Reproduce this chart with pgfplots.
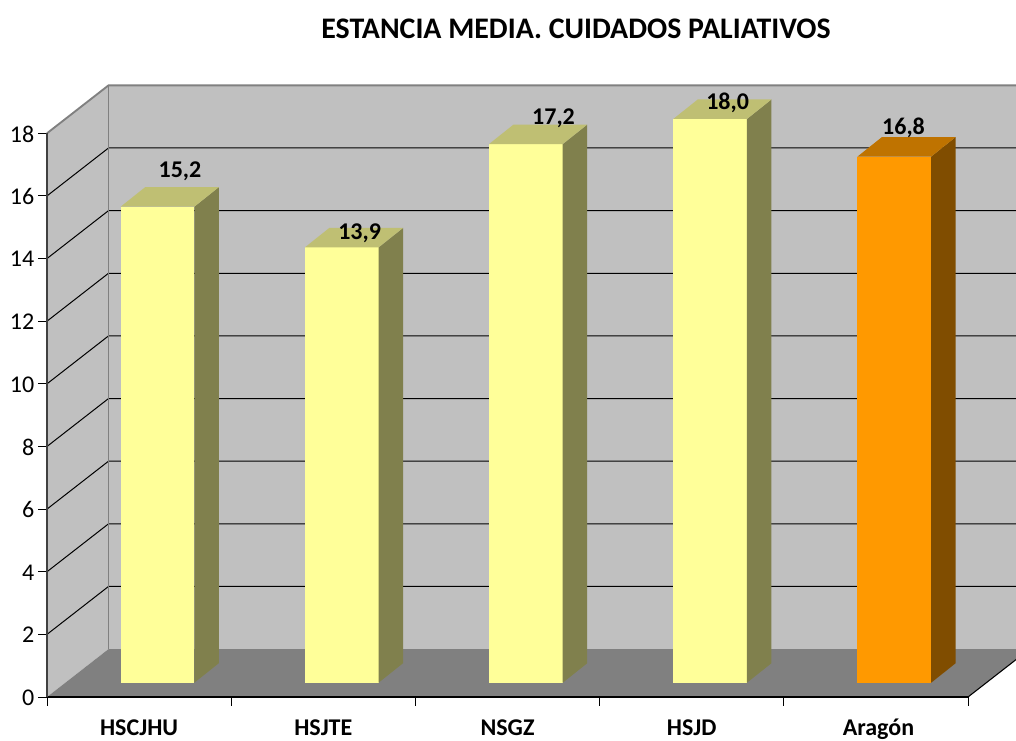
\documentclass[border=0pt]{standalone}
\usepackage{pgfplots}
\pgfplotsset{compat=1.18}
\usepackage{fontspec}
\setmainfont{Carlito}
\definecolor{wall}{HTML}{C0C0C0}
\definecolor{floorc}{HTML}{808080}
\definecolor{barY}{HTML}{FFFF99}
\definecolor{sideY}{HTML}{80804D}
\definecolor{topY}{HTML}{BFBF73}
\definecolor{barO}{HTML}{FF9900}
\definecolor{sideO}{HTML}{804D00}
\definecolor{topO}{HTML}{BF7300}
\pgfplotsset{
  face/.style={draw=none,fill=#1,xshift=13.8pt,yshift=10.7pt,forget plot},
}
\begin{document}
\begin{tikzpicture}
\path[use as bounding box] (0,0) rectangle (762pt,555pt);
\begin{axis}[
  at={(35.25pt,32.25pt)},anchor=south west,
  scale only axis,width=690.75pt,height=422.8pt,
  xmin=0,xmax=5,ymin=0,ymax=18,
  clip=false,
  axis y line*=left,axis x line*=bottom,
  x axis line style={black,line width=0.8pt,-},
  y axis line style={black!75,line width=1pt,-},
  axis on top,
  tick align=outside,
  tick style={black,line width=0.75pt},
  major tick length=6.4pt,
  ytick={0,2,4,6,8,10,12,14,16,18},
  xtick={0,1,2,3,4,5},
  xticklabels={},
  extra x ticks={0.5,1.5,2.5,3.5,4.514},
  extra x tick labels={HSCJHU,HSJTE,NSGZ,HSJD,Aragón},
  extra x tick style={major tick length=0pt,
    xticklabel style={font=\fontsize{18}{20}\selectfont\bfseries,anchor=base,inner sep=0pt,yshift=-28.6pt}},
  /pgf/number format/assume math mode=true,
  yticklabel style={font=\fontsize{18}{20}\selectfont,xshift=0.4pt,yshift=-0.5pt},
  legend style={draw=none},
]
% walls and floor
\addplot[draw=none,fill=wall,forget plot] coordinates {(0.334,1.53)(5.334,1.53)(5.334,19.53)(0.334,19.53)} -- cycle;
\addplot[draw=none,fill=wall,forget plot] coordinates {(0,0)(0.334,1.53)(0.334,19.53)(0,18)} -- cycle;
\addplot[draw=none,fill=floorc,forget plot] coordinates {(0,0)(5,0)(5.334,1.53)(0.334,1.53)} -- cycle;
% gridlines
\addplot[black,line width=0.75pt,unbounded coords=jump,forget plot] coordinates {
 (0,2)(0.334,3.53)(5.334,3.53)(nan,nan)
 (0,4)(0.334,5.53)(5.334,5.53)(nan,nan)
 (0,6)(0.334,7.53)(5.334,7.53)(nan,nan)
 (0,8)(0.334,9.53)(5.334,9.53)(nan,nan)
 (0,10)(0.334,11.53)(5.334,11.53)(nan,nan)
 (0,12)(0.334,13.53)(5.334,13.53)(nan,nan)
 (0,14)(0.334,15.53)(5.334,15.53)(nan,nan)
 (0,16)(0.334,17.53)(5.334,17.53)};
% wall edges
\addplot[floorc,line width=1.4pt,forget plot] coordinates {(0.334,1.53)(0.334,19.53)};
\addplot[floorc,line width=1.4pt,forget plot] coordinates {(0,18)(0.334,19.53)(5.334,19.53)};
\addplot[black,line width=0.8pt,forget plot] coordinates {(5,0)(5.334,1.53)};
% bars
\addplot[face=barY] coordinates {(0.3,0)(0.7,0)(0.7,15.2)(0.3,15.2)} -- cycle;
\addplot[face=sideY] coordinates {(0.7,0)(0.833,0.623)(0.833,15.823)(0.7,15.2)} -- cycle;
\addplot[face=topY] coordinates {(0.3,15.2)(0.7,15.2)(0.833,15.823)(0.433,15.823)} -- cycle;
\addplot[face=barY] coordinates {(1.3,0)(1.7,0)(1.7,13.9)(1.3,13.9)} -- cycle;
\addplot[face=sideY] coordinates {(1.7,0)(1.833,0.623)(1.833,14.523)(1.7,13.9)} -- cycle;
\addplot[face=topY] coordinates {(1.3,13.9)(1.7,13.9)(1.833,14.523)(1.433,14.523)} -- cycle;
\addplot[face=barY] coordinates {(2.3,0)(2.7,0)(2.7,17.2)(2.3,17.2)} -- cycle;
\addplot[face=sideY] coordinates {(2.7,0)(2.833,0.623)(2.833,17.823)(2.7,17.2)} -- cycle;
\addplot[face=topY] coordinates {(2.3,17.2)(2.7,17.2)(2.833,17.823)(2.433,17.823)} -- cycle;
\addplot[face=barY] coordinates {(3.3,0)(3.7,0)(3.7,18)(3.3,18)} -- cycle;
\addplot[face=sideY] coordinates {(3.7,0)(3.833,0.623)(3.833,18.623)(3.7,18)} -- cycle;
\addplot[face=topY] coordinates {(3.3,18)(3.7,18)(3.833,18.623)(3.433,18.623)} -- cycle;
\addplot[face=barO] coordinates {(4.3,0)(4.7,0)(4.7,16.8)(4.3,16.8)} -- cycle;
\addplot[face=sideO] coordinates {(4.7,0)(4.833,0.623)(4.833,17.423)(4.7,16.8)} -- cycle;
\addplot[face=topO] coordinates {(4.3,16.8)(4.7,16.8)(4.833,17.423)(4.433,17.423)} -- cycle;
% value labels
\tikzset{val/.style={font=\fontsize{18}{20}\selectfont\bfseries,inner sep=0pt,text=black}}
\node[val] at (axis cs:0.722,16.79) {15,2};
\node[val] at (axis cs:1.697,14.81) {13,9};
\node[val] at (axis cs:2.75,18.49) {17,2};
\node[val] at (axis cs:3.695,18.96) {18,0};
\node[val] at (axis cs:4.65,18.17) {16,8};
\node[font=\fontsize{22.4}{24}\selectfont\bfseries,inner sep=0pt] at (axis cs:2.872,21.33) {ESTANCIA MEDIA. CUIDADOS PALIATIVOS};
\end{axis}
\end{tikzpicture}
\end{document}
